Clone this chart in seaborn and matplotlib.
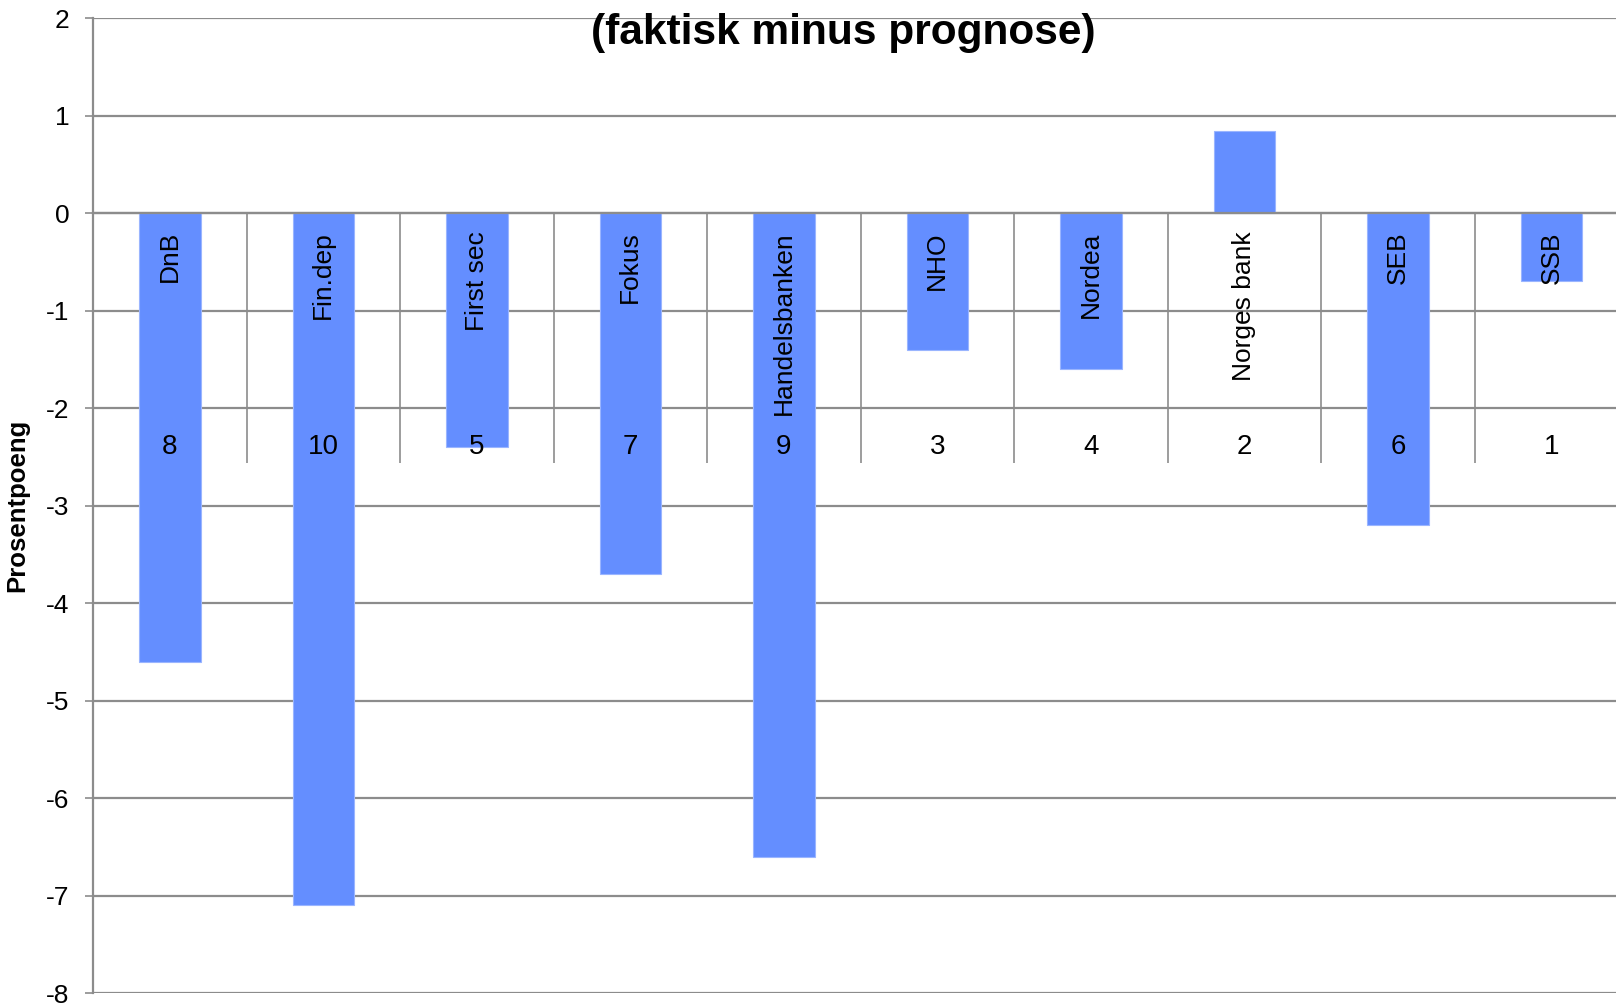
import matplotlib
matplotlib.use("Agg")
import matplotlib.pyplot as plt
import matplotlib.ticker as mticker
import seaborn as sns
import pandas as pd

# data
navn = ["DnB", "Fin.dep", "First sec", "Fokus", "Handelsbanken",
        "NHO", "Nordea", "Norges bank", "SEB", "SSB"]
avvik = [-4.6, -7.1, -2.4, -3.7, -6.6, -1.4, -1.6, 0.84, -3.2, -0.7]
rang = [8, 10, 5, 7, 9, 3, 4, 2, 6, 1]
y_ticks = list(range(-8, 3))

tittel = "(faktisk minus prognose)"
y_tittel = "Prosentpoeng"

sns.set_theme(style="white")
plt.rcParams["font.family"] = ["Liberation Sans", "DejaVu Sans"]
plt.rcParams["axes.unicode_minus"] = False
plt.rcParams["text.color"] = "black"
plt.rcParams["axes.labelcolor"] = "black"

grey = "#8c8c8c"
bar_col = "#648eff"

df = pd.DataFrame({"navn": navn, "avvik": avvik})

fig = plt.figure(figsize=(16.16, 10.07), dpi=100)
# right edge runs slightly past the figure, as in the cropped original
ax = fig.add_axes([0.0576, 0.0139, 0.9499, 0.9680])

sns.barplot(data=df, x="navn", y="avvik", color=bar_col, saturation=1,
            width=0.4, edgecolor="#9ab5ff", linewidth=0.8, ax=ax, zorder=2)

ax.set_xlim(-0.5, len(navn) - 0.5)
ax.set_ylim(y_ticks[0], y_ticks[-1])
ax.set_yticks(y_ticks)
ax.yaxis.grid(True, color=grey, lw=1.6)
ax.xaxis.grid(False)
ax.set_axisbelow(True)

for s in ["top", "right"]:
    ax.spines[s].set_visible(False)
ax.spines["left"].set_color(grey)
ax.spines["left"].set_linewidth(1.6)
ax.spines["bottom"].set_position(("data", 0))
ax.spines["bottom"].set_color(grey)
ax.spines["bottom"].set_linewidth(1.6)

ax.set_xlabel("")
ax.tick_params(axis="x", which="major", length=0, labelbottom=False)
# separators between categories (multi-level axis look)
ax.xaxis.set_minor_locator(mticker.FixedLocator([i + 0.5 for i in range(len(navn) - 1)]))
ax.tick_params(axis="x", which="minor", length=180, width=1.2, color=grey,
               direction="out", bottom=True)

ax.tick_params(axis="y", length=6, width=1.2, color=grey, pad=11,
               labelsize=19, labelcolor="black", left=True)

# category names hang from the zero line, rank numbers below them
for i, (n, r) in enumerate(zip(navn, rang)):
    ax.annotate(n, xy=(i, 0), xytext=(0, -13), textcoords="offset points",
                rotation=90, ha="center", va="top", fontsize=19, zorder=3)
    ax.text(i, -2.4, str(r), ha="center", va="center", fontsize=20, zorder=3)

ax.set_ylabel(y_tittel, fontsize=18.5, fontweight="bold", labelpad=12)

fig.text(843 / 1616, 1 - 33 / 1007, tittel, ha="center", va="center",
         fontsize=30.5, fontweight="bold", color="black")

fig.savefig("out.png", dpi=100)
